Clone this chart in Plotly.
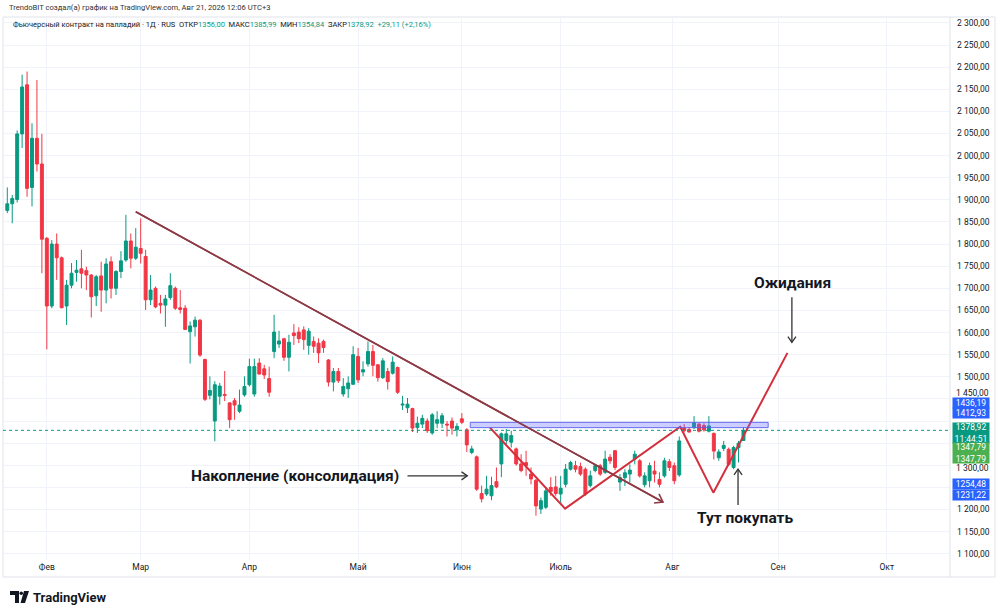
import math
import plotly.graph_objects as go

# daily bars of the palladium future, trading days only (index = bar number)
opens = [1876, 1891, 1901, 2049, 2160, 1928, 2039, 1981, 1813, 1660,
         1800, 1769, 1660, 1707, 1736, 1744, 1740, 1730, 1683, 1728,
         1696, 1760, 1700, 1738, 1764, 1807, 1768, 1790, 1772, 1674,
         1700, 1666, 1662, 1679, 1700, 1656, 1655, 1602, 1613, 1628,
         1539, 1458, 1400, 1456, 1460, 1441, 1446, 1422, 1459, 1482,
         1461, 1531, 1518, 1496, 1557, 1574, 1586, 1544, 1599, 1601,
         1606, 1571, 1580, 1576, 1580, 1538, 1488, 1512, 1461, 1473,
         1483, 1546, 1511, 1529, 1557, 1527, 1498, 1512, 1508, 1521,
         1436, 1430, 1428, 1385, 1393, 1400, 1373, 1395, 1395, 1393,
         1400, 1380, 1405, 1380, 1329, 1319, 1236, 1235, 1231, 1263,
         1303, 1356, 1352, 1337, 1303, 1306, 1280, 1266, 1201, 1205,
         1250, 1251, 1235, 1257, 1291, 1299, 1297, 1291, 1254, 1288,
         1299, 1284, 1318, 1333, 1262, 1272, 1280, 1314, 1310, 1256,
         1265, 1287, 1268, 1276, 1308, 1299, 1278, 1384, 1381, 1385,
         1393, 1390, 1377, 1372, 1317, 1338, 1336, 1295, 1340, 1356.00]
highs = [1928, 1911, 2057, 2183, 2190, 2073, 2171, 2049, 1816, 1809,
         1824, 1772, 1719, 1757, 1764, 1787, 1749, 1732, 1730, 1760,
         1768, 1772, 1741, 1784, 1866, 1824, 1836, 1858, 1787, 1730,
         1704, 1685, 1685, 1734, 1704, 1696, 1662, 1625, 1636, 1630,
         1541, 1501, 1490, 1486, 1513, 1441, 1452, 1471, 1501, 1541,
         1541, 1542, 1527, 1523, 1640, 1604, 1588, 1595, 1619, 1612,
         1614, 1610, 1591, 1587, 1584, 1540, 1520, 1520, 1497, 1501,
         1569, 1565, 1535, 1580, 1572, 1529, 1542, 1520, 1546, 1523,
         1457, 1452, 1430, 1410, 1414, 1406, 1418, 1422, 1418, 1400,
         1408, 1395, 1418, 1384, 1344, 1322, 1254, 1276, 1274, 1295,
         1374, 1382, 1378, 1340, 1325, 1333, 1295, 1269, 1227, 1250,
         1273, 1276, 1276, 1303, 1310, 1310, 1306, 1295, 1288, 1303,
         1303, 1333, 1325, 1334, 1280, 1291, 1302, 1333, 1314, 1284,
         1306, 1310, 1284, 1317, 1314, 1306, 1365, 1393, 1386, 1411,
         1396, 1395, 1411, 1374, 1336, 1355, 1340, 1344, 1355, 1385.99]
lows = [1870, 1847, 1894, 2017, 1907, 1885, 1964, 1734, 1562, 1655,
        1719, 1655, 1617, 1700, 1715, 1700, 1696, 1634, 1660, 1647,
        1666, 1677, 1685, 1723, 1760, 1745, 1764, 1756, 1651, 1662,
        1655, 1643, 1613, 1674, 1651, 1643, 1606, 1530, 1591, 1545,
        1445, 1449, 1354, 1437, 1445, 1384, 1403, 1418, 1455, 1478,
        1455, 1506, 1495, 1455, 1542, 1565, 1536, 1512, 1572, 1576,
        1561, 1550, 1554, 1531, 1554, 1478, 1467, 1486, 1455, 1452,
        1482, 1486, 1501, 1523, 1501, 1489, 1495, 1471, 1505, 1461,
        1425, 1418, 1375, 1373, 1384, 1373, 1369, 1384, 1384, 1365,
        1369, 1365, 1393, 1330, 1325, 1242, 1216, 1231, 1221, 1248,
        1273, 1348, 1340, 1299, 1284, 1276, 1257, 1186, 1190, 1201,
        1231, 1231, 1212, 1250, 1288, 1284, 1276, 1231, 1250, 1284,
        1276, 1280, 1303, 1289, 1242, 1253, 1261, 1302, 1272, 1250,
        1250, 1261, 1250, 1272, 1287, 1257, 1274, 1374, 1374, 1382,
        1374, 1376, 1374, 1313, 1310, 1332, 1298, 1291, 1306, 1354.84]
closes = [1891, 1903, 2049, 2155, 1926, 2039, 1981, 1811, 1660, 1800,
          1769, 1656, 1707, 1734, 1741, 1734, 1730, 1681, 1726, 1696,
          1755, 1700, 1738, 1762, 1807, 1768, 1793, 1779, 1674, 1696,
          1658, 1662, 1676, 1706, 1655, 1652, 1607, 1615, 1628, 1549,
          1449, 1469, 1482, 1479, 1458, 1403, 1436, 1436, 1478, 1523,
          1523, 1506, 1504, 1465, 1601, 1581, 1544, 1578, 1593, 1586,
          1584, 1603, 1569, 1554, 1566, 1488, 1512, 1491, 1478, 1486,
          1550, 1493, 1516, 1557, 1526, 1498, 1536, 1489, 1533, 1465,
          1438, 1438, 1384, 1395, 1406, 1378, 1414, 1403, 1412, 1391,
          1384, 1388, 1397, 1346, 1337, 1246, 1224, 1246, 1254, 1251,
          1371, 1371, 1367, 1303, 1288, 1299, 1269, 1208, 1220, 1242,
          1241, 1236, 1248, 1291, 1306, 1291, 1280, 1235, 1276, 1299,
          1280, 1314, 1310, 1295, 1272, 1283, 1289, 1325, 1276, 1276,
          1299, 1280, 1257, 1310, 1295, 1265, 1355, 1378, 1375, 1396,
          1377, 1380, 1389, 1332, 1330, 1345, 1302, 1340, 1349.81, 1378.92]
bars = list(range(len(closes)))

month_pos = [8, 27, 49, 71, 92, 112, 134.6, 156, 178]
month_names = ["Фев", "Мар", "Апр", "Май", "Июн", "Июль", "Авг", "Сен", "Окт"]

price_ticks = list(range(1100, 2301, 50))
# ticks partly covered by the coloured labels: drawn separately, nudged aside
nudged_ticks = {1450: 6, 1300: -3}
hidden_ticks = [1250, 1350, 1400]


def tick_label(v):
    return f"{v:,}".replace(",", " ") + ",00"


price_text = ["" if (v in hidden_ticks or v in nudged_ticks) else tick_label(v)
              for v in price_ticks]

# drawings on the chart
trend_x = [26, 132.7]
trend_y = [1873, 1217]
w_x = [97.7, 112.9, 136.2, 142.9, 157.9]
w_y = [1385, 1202, 1387, 1238, 1554]
box_x = [93.7, 154]
box_y = [1385, 1397]

# coloured price labels on the axis: value, colour, shift in px
axis_marks = [(1436.19, "#2962ff", 2), (1412.93, "#2962ff", 2),
              (1254.48, "#2962ff", 1.5), (1231.22, "#2962ff", 1)]

UP = "#089981"
DOWN = "#f23645"
FONT = "Roboto, Liberation Sans, sans-serif"

# plot geometry (pixels) so arrows can be drawn in data units
L, R, T, B = 3, 50, 17, 56
W, H = 1000, 616
XR = [-0.87, 190.8]
YR = [1085.8, 2313.3]
KX = (W - L - R) / (XR[1] - XR[0])
KY = (H - T - B) / (YR[1] - YR[0])


def px(x):
    return (x - L) / (W - L - R)


def py(y):
    return (H - B - y) / (H - T - B)


def fmt(v):
    return f"{v:.2f}".replace(".", ",")


fig = go.Figure()

fig.add_trace(go.Candlestick(
    x=bars, open=opens, high=highs, low=lows, close=closes,
    increasing=dict(line=dict(color=UP, width=1), fillcolor=UP),
    decreasing=dict(line=dict(color=DOWN, width=1), fillcolor=DOWN),
    whiskerwidth=0, showlegend=False, hoverinfo="skip"))

fig.add_trace(go.Scatter(x=trend_x, y=trend_y, mode="lines",
                         line=dict(color="#8e3a45", width=1.6),
                         showlegend=False, hoverinfo="skip"))
fig.add_trace(go.Scatter(x=w_x, y=w_y, mode="lines",
                         line=dict(color="#d42f3c", width=2),
                         showlegend=False, hoverinfo="skip"))

fig.add_shape(type="rect", x0=box_x[0], x1=box_x[1], y0=box_y[0], y1=box_y[1],
              fillcolor="rgba(110,115,255,0.35)",
              line=dict(color="rgba(90,95,235,0.9)", width=1))

fig.add_shape(type="line", xref="paper", x0=0, x1=1, y0=closes[-1], y1=closes[-1],
              line=dict(color=UP, width=1, dash="dot"))


def arrow(x0, y0, x1, y1, color, width, size=7):
    fig.add_shape(type="line", x0=x0, y0=y0, x1=x1, y1=y1,
                  line=dict(color=color, width=width))
    dx, dy = (x1 - x0) * KX, (y1 - y0) * KY
    n = math.hypot(dx, dy)
    bx, by = -dx / n, -dy / n
    pts = []
    for s in (1, -1):
        a = math.radians(35) * s
        rx = bx * math.cos(a) - by * math.sin(a)
        ry = bx * math.sin(a) + by * math.cos(a)
        pts.append((x1 + rx * size / KX, y1 + ry * size / KY))
    path = f"M {pts[0][0]},{pts[0][1]} L {x1},{y1} L {pts[1][0]},{pts[1][1]}"
    fig.add_shape(type="path", path=path, line=dict(color=color, width=width))


arrow(trend_x[0], trend_y[0], trend_x[1], trend_y[1], "#8e3a45", 1.6, 9)
arrow(81.0, 1276, 93.1, 1276, "#333333", 1.3)
arrow(158.8, 1680, 158.8, 1578, "#333333", 1.3)
arrow(147.9, 1210, 147.9, 1291, "#333333", 1.3)

notes = [("Накопление (консолидация)", 79.7, 1276, "right"),
         ("Ожидания", 159.0, 1712, "center"),
         ("Тут покупать", 149.3, 1181, "center")]
for txt, nx, ny, anc in notes:
    fig.add_annotation(x=nx, y=ny, text=f"<b>{txt}</b>", showarrow=False,
                       xanchor=anc, yanchor="middle",
                       font=dict(family=FONT, size=15.5, color="#131722"))

for v, sh in nudged_ticks.items():
    fig.add_annotation(xref="paper", x=1, xanchor="left", xshift=4, y=v, yshift=sh,
                       text=tick_label(v), showarrow=False,
                       font=dict(family=FONT, size=8.5, color="#131722"))

for val, col, sh in axis_marks:
    fig.add_annotation(xref="paper", x=1, xanchor="left", xshift=2, y=val,
                       yshift=sh, text=fmt(val), showarrow=False, bgcolor=col,
                       width=36, height=10, borderpad=0,
                       font=dict(family=FONT, size=8.5, color="white"))
fig.add_annotation(xref="paper", x=1, xanchor="left", xshift=2, y=closes[-1],
                   yshift=-3, text=fmt(closes[-1]) + "<br>11:44:51",
                   showarrow=False, bgcolor=UP, width=36, height=20, borderpad=0,
                   font=dict(family=FONT, size=8.5, color="white"))
fig.add_annotation(xref="paper", x=1, xanchor="left", xshift=2, y=1347.79,
                   yshift=-9, text="1347,79<br>1347,79", showarrow=False,
                   bgcolor="#4caf50", width=36, height=20, borderpad=0,
                   font=dict(family=FONT, size=8.5, color="white"))

# header and legend line
fig.add_annotation(xref="paper", yref="paper", x=px(7), y=py(8), xanchor="left",
                   yanchor="middle", showarrow=False,
                   text="TrendoBIT создал(а) график на TradingView.com, Авг 21, 2026 12:06 UTC+3",
                   font=dict(family=FONT, size=7.6, color="#333333"))
chg = closes[-1] - closes[-2]
pct = chg / closes[-2] * 100


def g(s):
    return f'<span style="color:{UP}">{s}</span>'


legend_txt = ("Фьючерсный контракт на палладий · 1Д · RUS  "
              f"ОТКР{g(fmt(opens[-1]))}  МАКС{g(fmt(highs[-1]))}  "
              f"МИН{g(fmt(lows[-1]))}  ЗАКР{g(fmt(closes[-1]))}  "
              + g(f"+{fmt(chg)} (+{fmt(pct)}%)"))
fig.add_annotation(xref="paper", yref="paper", x=px(11), y=py(25), xanchor="left",
                   yanchor="middle", showarrow=False, text=legend_txt,
                   font=dict(family=FONT, size=7.5, color="#131722"))

# TradingView logo
fig.add_shape(type="path", xref="paper", yref="paper",
              path=f"M {px(10)},{py(591)} L {px(19)},{py(591)} L {px(19)},{py(603)} "
                   f"L {px(15)},{py(603)} L {px(15)},{py(595)} L {px(10)},{py(595)} Z",
              fillcolor="#131722", line=dict(width=0))
fig.add_shape(type="circle", xref="paper", yref="paper",
              x0=px(19.5), x1=px(23), y0=py(595), y1=py(591.5),
              fillcolor="#131722", line=dict(width=0))
fig.add_shape(type="path", xref="paper", yref="paper",
              path=f"M {px(24)},{py(591)} L {px(29)},{py(591)} L {px(25)},{py(603)} "
                   f"L {px(20.5)},{py(603)} Z",
              fillcolor="#131722", line=dict(width=0))
fig.add_annotation(xref="paper", yref="paper", x=px(31), y=py(597), xanchor="left",
                   yanchor="middle", showarrow=False, text="<b>TradingView</b>",
                   font=dict(family=FONT, size=13, color="#131722"))

# panel borders
fig.add_shape(type="rect", xref="paper", yref="paper", x0=px(3), x1=px(995),
              y0=py(577), y1=py(17), line=dict(color="#e0e3eb", width=1), layer="below")
fig.add_shape(type="line", xref="paper", yref="paper", x0=1, x1=1, y0=py(577), y1=1,
              line=dict(color="#e0e3eb", width=1))

fig.update_layout(
    width=W, height=H, margin=dict(l=L, r=R, t=T, b=B),
    paper_bgcolor="white", plot_bgcolor="white", boxgap=0.15,
    font=dict(family=FONT, size=8, color="#131722"),
    xaxis=dict(range=XR, tickvals=month_pos, ticktext=month_names,
               showgrid=True, gridcolor="#f0f3fa", zeroline=False,
               rangeslider=dict(visible=False), ticks="", showline=False,
               tickfont=dict(size=8.5)),
    yaxis=dict(range=YR, side="right", tickvals=price_ticks, ticktext=price_text,
               showgrid=True, gridcolor="#f0f3fa", zeroline=False, ticks="",
               ticklabelstandoff=6, tickfont=dict(size=8.5)),
)

fig.write_html("out.html", config={"displayModeBar": False},
               post_script="document.body.style.margin='0';")
